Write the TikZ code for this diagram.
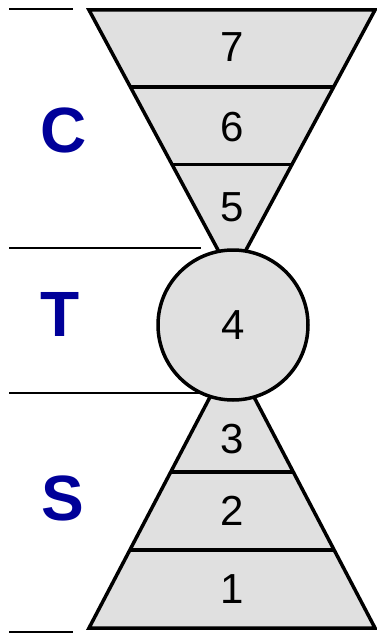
\documentclass[tikz,border=0pt]{standalone}
\usepackage{fontspec}
\setmainfont{Liberation Sans}
\usetikzlibrary{calc}
\definecolor{layergray}{HTML}{E0E0E0}
\definecolor{groupblue}{HTML}{000099}
\begin{document}
\begin{tikzpicture}[x=1pt, y=-1pt,
    layer/.style={fill=layergray, draw=black, line width=3.5pt, line join=miter},
    divider/.style={draw=black, line width=3.5pt},
    band/.style={draw=black, line width=2pt},
    num/.style={inner sep=0pt, font=\fontsize{42}{48}\selectfont},
    group/.style={inner sep=0pt, text=groupblue, font=\fontsize{64}{70}\selectfont\bfseries}]
    \useasboundingbox (0,0) rectangle (377,634);

    % Upper funnel (layers 5-7)
    \coordinate (ctl) at (89,10);
    \coordinate (ctr) at (375,10);
    \coordinate (cap) at (232,276);
    \filldraw[layer] (ctl) -- (ctr) -- (cap) -- cycle;
    \draw[divider] ($(ctl)!0.29!(cap)$) -- ($(ctr)!0.29!(cap)$);
    \draw[divider] ($(ctl)!0.58!(cap)$) -- ($(ctr)!0.58!(cap)$);

    % Lower pyramid (layers 1-3)
    \coordinate (sbl) at (89,628);
    \coordinate (sbr) at (375,628);
    \coordinate (sap) at (232,355);
    \filldraw[layer] (sbl) -- (sbr) -- (sap) -- cycle;
    \draw[divider] ($(sbl)!0.286!(sap)$) -- ($(sbr)!0.286!(sap)$);
    \draw[divider] ($(sbl)!0.571!(sap)$) -- ($(sbr)!0.571!(sap)$);

    % Waist (layer 4)
    \node[layer, circle, minimum size=150pt, inner sep=0pt, font=\fontsize{42}{48}\selectfont] (l4) at (233,325) {4};

    % Layer numbers
    \node[num] (l7) at (232,47) {7};
    \node[num] (l6) at (232,127) {6};
    \node[num] (l5) at (232,207) {5};
    \node[num] (l3) at (232,439) {3};
    \node[num] (l2) at (232,511) {2};
    \node[num] (l1) at (232,589) {1};

    % Group bands on the left
    \draw[band] (9,9) -- (73,9);
    \draw[band] (9,248) -- (201,248);
    \draw[band] (9,393) -- (200,393);
    \draw[band] (9,632) -- (73,632);
    \node[group] (gc) at (64,130) {C};
    \node[group] (gt) at (60,314) {T};
    \node[group] (gs) at (63,498) {S};
\end{tikzpicture}
\end{document}
